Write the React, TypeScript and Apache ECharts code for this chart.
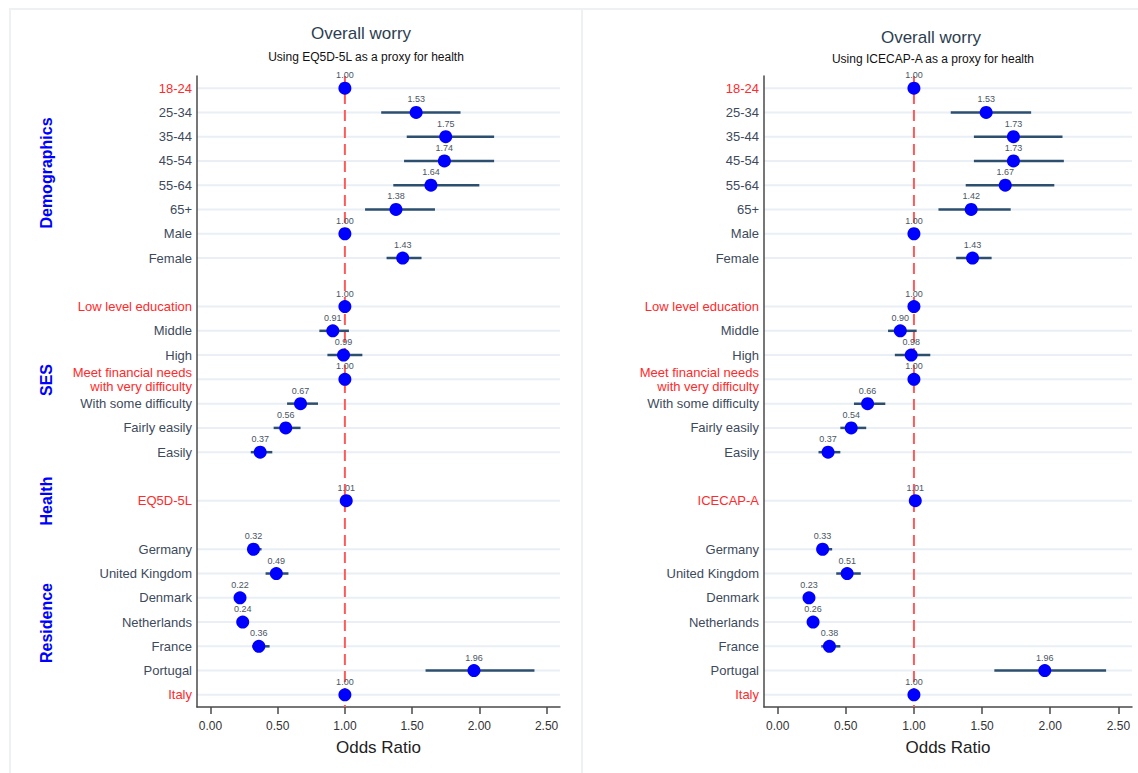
import React, { useEffect, useRef } from 'react';
import * as echarts from 'echarts';

// Category rows (top to bottom); blank spacer rows are inserted between groups
const demographics = ['18-24', '25-34', '35-44', '45-54', '55-64', '65+', 'Male', 'Female'];
const ses = [
  'Low level education',
  'Middle',
  'High',
  'Meet financial needs\nwith very difficulty',
  'With some difficulty',
  'Fairly easily',
  'Easily',
];
const residence = ['Germany', 'United Kingdom', 'Denmark', 'Netherlands', 'France', 'Portugal', 'Italy'];
const referenceLevels = ['18-24', 'Low level education', 'Meet financial needs\nwith very difficulty', 'EQ5D-5L', 'ICECAP-A', 'Italy'];

// Model 1: EQ5D-5L as health proxy (odds ratio, lower CI, upper CI)
const eqOddsRatio = [1.0, 1.53, 1.75, 1.74, 1.64, 1.38, 1.0, 1.43, 1.0, 0.91, 0.99, 1.0, 0.67, 0.56, 0.37, 1.01, 0.32, 0.49, 0.22, 0.24, 0.36, 1.96, 1.0];
const eqLower = [1.0, 1.27, 1.46, 1.44, 1.36, 1.15, 1.0, 1.31, 1.0, 0.81, 0.87, 1.0, 0.57, 0.47, 0.3, 1.0, 0.29, 0.41, 0.18, 0.2, 0.31, 1.6, 1.0];
const eqUpper = [1.0, 1.86, 2.11, 2.11, 2.0, 1.67, 1.0, 1.57, 1.0, 1.03, 1.13, 1.0, 0.8, 0.67, 0.46, 1.02, 0.38, 0.58, 0.26, 0.28, 0.44, 2.41, 1.0];

// Model 2: ICECAP-A as health proxy
const icOddsRatio = [1.0, 1.53, 1.73, 1.73, 1.67, 1.42, 1.0, 1.43, 1.0, 0.9, 0.98, 1.0, 0.66, 0.54, 0.37, 1.01, 0.33, 0.51, 0.23, 0.26, 0.38, 1.96, 1.0];
const icLower = [1.0, 1.27, 1.44, 1.44, 1.38, 1.18, 1.0, 1.31, 1.0, 0.81, 0.86, 1.0, 0.56, 0.46, 0.3, 1.0, 0.29, 0.43, 0.19, 0.22, 0.32, 1.59, 1.0];
const icUpper = [1.0, 1.86, 2.09, 2.1, 2.03, 1.71, 1.0, 1.57, 1.0, 1.02, 1.12, 1.0, 0.79, 0.65, 0.46, 1.02, 0.4, 0.61, 0.27, 0.3, 0.46, 2.41, 1.0];

// Null-effect reference value
const nullOddsRatio = [1];

const xTicks = [0, 0.5, 1, 1.5, 2, 2.5];
const FONT = '"Liberation Sans", Arial, sans-serif';

function buildCategories(healthLabel: string): string[] {
  return [...demographics, ' ', ...ses, '  ', healthLabel, '   ', ...residence];
}

function valueRows(categories: string[]): number[] {
  const rows: number[] = [];
  categories.forEach((c, i) => {
    if (c.trim() !== '') rows.push(i);
  });
  return rows;
}

function panelSeries(idx: number, categories: string[], or: number[], lo: number[], hi: number[]) {
  const rows = valueRows(categories);
  return [
    {
      // light horizontal guide for every populated row
      type: 'custom',
      xAxisIndex: idx,
      yAxisIndex: idx,
      z: 0,
      silent: true,
      encode: { x: 0, y: 1 },
      data: rows.map((r) => [0, r]),
      renderItem: (params: any, api: any) => {
        const cs = params.coordSys;
        const y = api.coord([0, api.value(1)])[1];
        return {
          type: 'line',
          shape: { x1: cs.x, y1: y, x2: cs.x + cs.width, y2: y },
          style: { stroke: '#e9eff4', lineWidth: 2 },
        };
      },
    },
    {
      // dashed vertical line at OR = 1
      type: 'custom',
      xAxisIndex: idx,
      yAxisIndex: idx,
      z: 1,
      silent: true,
      encode: { x: 0 },
      data: nullOddsRatio.map((v) => [v]),
      renderItem: (params: any, api: any) => {
        const cs = params.coordSys;
        const x = api.coord([api.value(0), 0])[0];
        return {
          type: 'line',
          shape: { x1: x, y1: cs.y, x2: x, y2: cs.y + cs.height },
          style: { stroke: '#ff5a5a', lineWidth: 2, lineDash: [11, 6] },
        };
      },
    },
    {
      // confidence intervals
      type: 'custom',
      xAxisIndex: idx,
      yAxisIndex: idx,
      z: 2,
      silent: true,
      encode: { x: [0, 1], y: 2 },
      data: rows.map((r, k) => [lo[k], hi[k], r]),
      renderItem: (params: any, api: any) => {
        const p1 = api.coord([api.value(0), api.value(2)]);
        const p2 = api.coord([api.value(1), api.value(2)]);
        return {
          type: 'line',
          shape: { x1: p1[0], y1: p1[1], x2: p2[0], y2: p2[1] },
          style: { stroke: '#2d4f6f', lineWidth: 2.5 },
        };
      },
    },
    {
      type: 'scatter',
      xAxisIndex: idx,
      yAxisIndex: idx,
      z: 3,
      symbolSize: 13,
      itemStyle: { color: '#0000ff', opacity: 1 },
      label: {
        show: true,
        position: 'top',
        distance: 2,
        fontSize: 9,
        fontFamily: FONT,
        color: '#4a5563',
        formatter: (p: any) => Number(p.value[0]).toFixed(2),
      },
      data: rows.map((r, k) => [or[k], r]),
    },
  ];
}

function xAxisFor(idx: number) {
  return {
    type: 'value',
    gridIndex: idx,
    min: -0.1,
    max: 2.6,
    splitLine: { show: false },
    axisLine: { show: true, onZero: false, lineStyle: { color: '#4a4a4a', width: 1.5 } },
    axisTick: { show: true, length: 7, customValues: xTicks, lineStyle: { color: '#4a4a4a', width: 1.5 } },
    axisLabel: {
      customValues: xTicks,
      formatter: (v: number) => v.toFixed(2),
      fontSize: 12,
      fontFamily: FONT,
      color: '#333',
      margin: 13,
    },
    name: 'Odds Ratio',
    nameLocation: 'middle',
    nameGap: 32,
    nameTextStyle: { fontSize: 17, fontFamily: FONT, color: '#222' },
  };
}

function yAxisFor(idx: number, categories: string[]) {
  return {
    type: 'category',
    gridIndex: idx,
    data: categories,
    inverse: true,
    boundaryGap: true,
    axisLine: { show: true, onZero: false, lineStyle: { color: '#4a4a4a', width: 1.5 } },
    axisTick: { show: false },
    splitLine: { show: false },
    axisLabel: {
      interval: 0,
      margin: 5,
      fontSize: 13,
      lineHeight: 14,
      fontFamily: FONT,
      color: (v: string) => (referenceLevels.includes(v) ? '#ff2a2a' : '#3d4a5c'),
    },
  };
}

function groupLabel(text: string, y: number) {
  return {
    type: 'text',
    x: 46,
    y,
    rotation: Math.PI / 2,
    style: {
      text,
      fill: '#0000ff',
      font: `bold 16px ${FONT}`,
      textAlign: 'center',
      textVerticalAlign: 'middle',
    },
  };
}

function titleText(text: string, x: number, y: number, size: number, color: string) {
  return {
    type: 'text',
    x,
    y,
    style: { text, fill: color, font: `${size}px ${FONT}`, textAlign: 'center', textVerticalAlign: 'middle' },
  };
}

export default function App() {
  const ref = useRef<HTMLDivElement>(null);

  useEffect(() => {
    if (!ref.current) return;
    const chart = echarts.init(ref.current, undefined, { renderer: 'svg' });
    const eqCats = buildCategories('EQ5D-5L');
    const icCats = buildCategories('ICECAP-A');

    chart.setOption({
      animation: false,
      backgroundColor: '#ffffff',
      grid: [
        { left: 197, top: 76, width: 363, height: 631 },
        { left: 764, top: 76, width: 368, height: 631 },
      ],
      xAxis: [xAxisFor(0), xAxisFor(1)],
      yAxis: [yAxisFor(0, eqCats), yAxisFor(1, icCats)],
      series: [
        ...panelSeries(0, eqCats, eqOddsRatio, eqLower, eqUpper),
        ...panelSeries(1, icCats, icOddsRatio, icLower, icUpper),
      ],
      graphic: [
        {
          type: 'rect',
          z: -10,
          silent: true,
          shape: { x: 10, y: 9, width: 572, height: 800 },
          style: { fill: '#ffffff', stroke: '#edf1f4', lineWidth: 2 },
        },
        {
          type: 'rect',
          z: -10,
          silent: true,
          shape: { x: 582, y: 9, width: 580, height: 800 },
          style: { fill: '#ffffff', stroke: '#edf1f4', lineWidth: 2 },
        },
        titleText('Overall worry', 361, 33, 17, '#2c3e50'),
        titleText('Using EQ5D-5L as a proxy for health', 366, 57, 12, '#111111'),
        titleText('Overall worry', 931, 37, 17, '#2c3e50'),
        titleText('Using ICECAP-A as a proxy for health', 933, 59, 12, '#111111'),
        groupLabel('Demographics', 173),
        groupLabel('SES', 380),
        groupLabel('Health', 501),
        groupLabel('Residence', 623),
      ],
    });

    return () => chart.dispose();
  }, []);

  return <div ref={ref} style={{ position: 'fixed', left: 0, top: 0, width: 1138, height: 773 }} />;
}
